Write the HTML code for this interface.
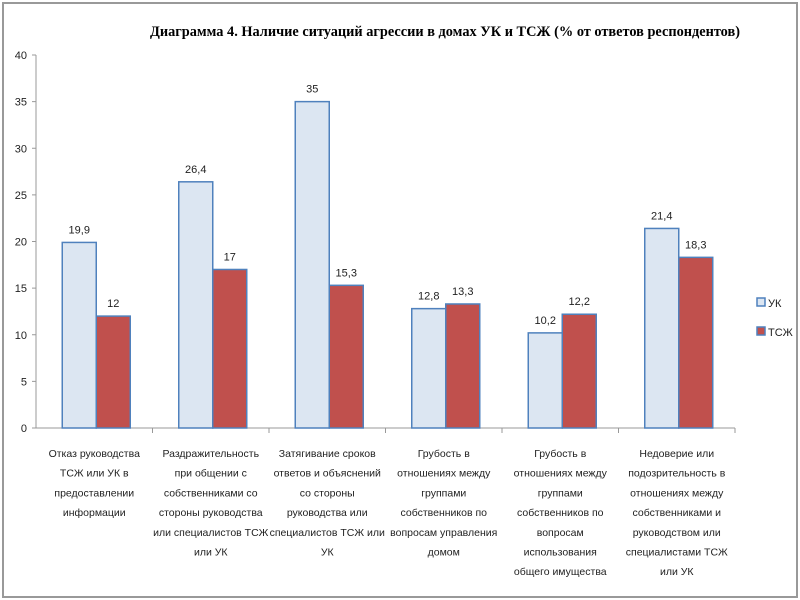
<!DOCTYPE html>
<html><head><meta charset="utf-8"><style>
body{margin:0;background:#fff;}
svg{display:block;font-family:"Liberation Sans","DejaVu Sans",sans-serif;}
</style></head><body>
<svg id="c" width="800" height="600">
<rect x="3" y="3" width="794" height="594" fill="#fff" stroke="#999" stroke-width="2"/>
<text x="445" y="36" text-anchor="middle" font-family="Liberation Serif,serif" font-weight="bold" font-size="15" textLength="590" lengthAdjust="spacingAndGlyphs">Диаграмма 4. Наличие ситуаций агрессии в домах УК и ТСЖ (% от ответов респондентов)</text>
</svg>
<script>
const categories=[
["Отказ руководства","ТСЖ или УК в","предоставлении","информации"],
["Раздражительность","при общении с","собственниками со","стороны руководства","или специалистов  ТСЖ","или УК"],
["Затягивание сроков","ответов и объяснений","со стороны","руководства или","специалистов ТСЖ или","УК"],
["Грубость в","отношениях между","группами","собственников по","вопросам управления","домом"],
["Грубость в","отношениях между","группами","собственников по","вопросам","использования","общего имущества"],
["Недоверие или","подозрительность в","отношениях между","собственниками и","руководством или","специалистами ТСЖ","или УК"]];
const seriesUK=[19.9,26.4,35,12.8,10.2,21.4];
const seriesTSZH=[12,17,15.3,13.3,12.2,18.3];
const yTicks=[0,5,10,15,20,25,30,35,40];
const seriesNames=["УК","ТСЖ"];
const svg=document.getElementById('c');const NS='http://www.w3.org/2000/svg';
const X0=36,X1=735,Y0=428,Y1=55,YMAX=40;
const y=v=>Y0-(v/YMAX)*(Y0-Y1);
const cw=(X1-X0)/categories.length;
const xc=i=>X0+cw*i;
function mk(t,a,txt){const e=document.createElementNS(NS,t);for(const k in a)e.setAttribute(k,a[k]);if(txt!==undefined)e.textContent=txt;svg.appendChild(e);return e;}
let e=mk('line',{x1:X0,y1:Y1,x2:X0,y2:Y0,stroke:'#999'});


yTicks.forEach(v=>{
 let t=mk('line',{x1:X0-4,y1:y(v),x2:X0,y2:y(v),stroke:'#999'});
 
 
 let l=mk('text',{x:X0-9,y:y(v)+4,'text-anchor':'end','font-size':11,fill:'#222'},String(v));
 
 
});
e=mk('line',{x1:X0,y1:Y0,x2:X1,y2:Y0,stroke:'#999'});


const fmt=v=>String(v).replace('.',',');
categories.forEach((lines,i)=>{
 let t=mk('line',{x1:xc(i+1),y1:Y0,x2:xc(i+1),y2:Y0+5,stroke:'#999'});
 
 
 const bw=34,bx=xc(i)+cw/2-bw+2;
 [[seriesUK[i],bx,'#dce6f2','#4f81bd','bar-uk'],[seriesTSZH[i],bx+bw,'#c0504d','#4f81bd','bar-tszh']].forEach(([v,x,f,s,n])=>{
  let r=mk('rect',{x:x,y:y(v),width:bw,height:Y0-y(v),fill:f,stroke:s,'stroke-width':1.5});
  
  
  let l=mk('text',{x:x+bw/2,y:y(v)-9,'text-anchor':'middle','font-size':11,fill:'#222'},fmt(v));
  
  
 });
 lines.forEach((s,j)=>{
  let l=mk('text',{x:xc(i)+cw/2,y:457+j*19.7,'text-anchor':'middle','font-size':10.5,fill:'#222'},s);
  
  
 });
});
[['#dce6f2',seriesNames[0],303],['#c0504d',seriesNames[1],332]].forEach(([f,n,yy])=>{
 let r=mk('rect',{x:757,y:yy-5,width:8,height:8,fill:f,stroke:'#4f81bd','stroke-width':1.5});
 
 
 let l=mk('text',{x:768,y:yy+4,'font-size':11,fill:'#222'},n);
 
 
});
</script>
</body></html>
